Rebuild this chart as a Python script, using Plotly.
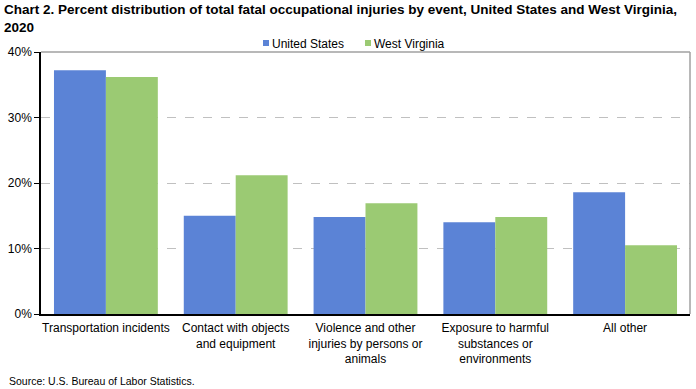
import plotly.graph_objects as go

categories = ["Transportation incidents", "Contact with objects<br>and equipment",
              "Violence and other<br>injuries by persons or<br>animals",
              "Exposure to harmful<br>substances or<br>environments", "All other"]
series_names = ["United States", "West Virginia"]
us_values = [37.2, 15.0, 14.8, 14.0, 18.6]
wv_values = [36.2, 21.2, 16.9, 14.8, 10.5]
y_ticks = [0, 10, 20, 30, 40]
y_tick_labels = ["0%", "10%", "20%", "30%", "40%"]

FONT = "Liberation Sans, Arial, sans-serif"
COLORS = ["#5b83d6", "#9bca73"]

W, H = 696, 389
L, R, T, B = 41, 6, 52, 75
PW, PH = W - L - R, H - T - B


def px_x(px):
    return (px - L) / PW


def px_y(py):
    return (H - B - py) / PH


fig = go.Figure()
for name, vals, col in zip(series_names, [us_values, wv_values], COLORS):
    fig.add_trace(go.Bar(name=name, x=categories, y=vals,
                         marker=dict(color=col, line=dict(width=0))))

fig.update_layout(
    width=W, height=H,
    margin=dict(l=L, r=R, t=T, b=B, autoexpand=False),
    paper_bgcolor="white", plot_bgcolor="white",
    barmode="group", bargap=0.2, bargroupgap=0,
    font=dict(family=FONT, size=12, color="#000000"),
    showlegend=False,
)
fig.update_xaxes(showline=True, linecolor="#000000", linewidth=1.5, mirror=False,
                 ticks="", ticklabelstandoff=2, tickfont=dict(family=FONT, size=12))
fig.update_yaxes(range=[0, 40], tickvals=y_ticks, ticktext=y_tick_labels,
                 showline=True, linecolor="#000000", linewidth=1.5,
                 ticks="outside", ticklen=5, tickcolor="#000000",
                 showgrid=True, gridcolor="#c0c0c0", griddash="dash", gridwidth=1,
                 zeroline=False, tickfont=dict(family=FONT, size=12))

# top and right gray border
fig.add_shape(type="line", xref="paper", yref="paper", x0=0, x1=1, y0=1, y1=1,
              line=dict(color="#a0a0a0", width=1.5))
fig.add_shape(type="line", xref="paper", yref="paper", x0=1, x1=1, y0=0, y1=1,
              line=dict(color="#a0a0a0", width=1.5))

# title
fig.add_annotation(
    text="<b>Chart 2. Percent distribution of total fatal occupational injuries by event, United States and West Virginia,<br>2020</b>",
    xref="paper", yref="paper", x=px_x(2), y=px_y(-0.5), xanchor="left", yanchor="top",
    align="left", showarrow=False, font=dict(family=FONT, size=13.5, color="#000000"))

# legend (custom, compact like the reference)
legend_sq_x = [263, 365]
for name, col, sx in zip(series_names, COLORS, legend_sq_x):
    fig.add_shape(type="rect", xref="paper", yref="paper",
                  x0=px_x(sx), x1=px_x(sx + 6), y0=px_y(46), y1=px_y(40),
                  fillcolor=col, line=dict(width=0))
    fig.add_annotation(text=name, xref="paper", yref="paper",
                       x=px_x(sx + 7), y=px_y(43.5), xanchor="left", yanchor="middle",
                       showarrow=False, font=dict(family=FONT, size=12))

# source
fig.add_annotation(text="Source: U.S. Bureau of Labor Statistics.", xref="paper", yref="paper",
                   x=px_x(7), y=px_y(373), xanchor="left", yanchor="top", showarrow=False,
                   font=dict(family=FONT, size=10.5))

fig.write_html("out.html", config={"displayModeBar": False},
               post_script="document.body.style.margin='0';document.body.style.overflow='hidden';")
